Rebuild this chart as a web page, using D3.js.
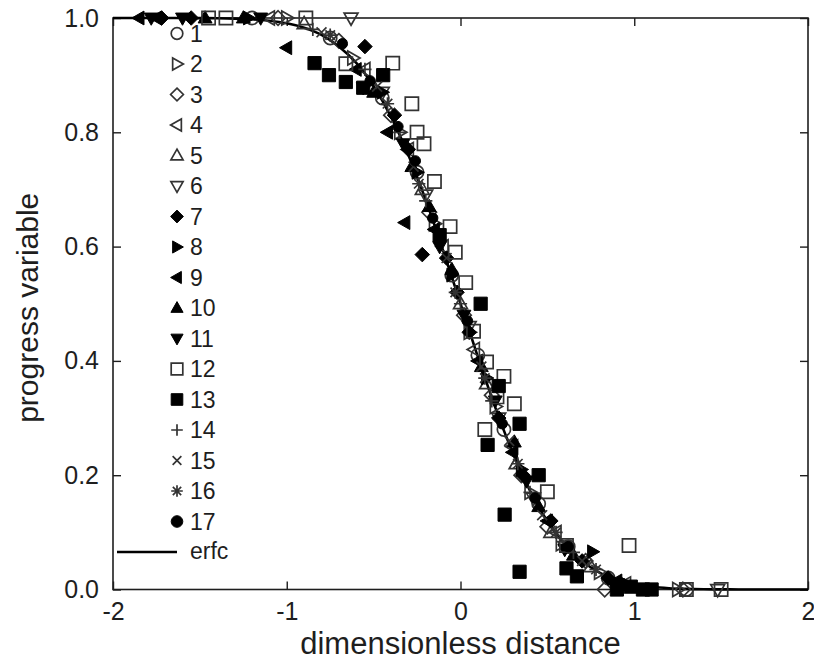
<!DOCTYPE html>
<html>
<head>
<meta charset="utf-8">
<script src="https://cdn.jsdelivr.net/npm/d3@7/dist/d3.min.js"></script>
<style>
  html, body { margin: 0; padding: 0; background: #fff; }
  svg { display: block; font-family: "Liberation Sans", Arial, Helvetica, sans-serif; }
</style>
</head>
<body>
<svg id="chart" width="814" height="667"></svg>
<script>
// ---------------- DATA ----------------
const xTicks = [-2, -1, 0, 1, 2];
const xTickLabels = ["-2", "-1", "0", "1", "2"];
const yTicks = [0, 0.2, 0.4, 0.6, 0.8, 1.0];
const yTickLabels = ["0.0", "0.2", "0.4", "0.6", "0.8", "1.0"];

const seriesNames = ["1","2","3","4","5","6","7","8","9","10","11","12","13","14","15","16","17"];
const seriesSymbols = ["circle","triRight","diamond","triLeft","triUp","triDown","diamond","triRight","triLeft","triUp","triDown","square","square","plus","cross","asterisk","circle"];
const seriesFilled = [false,false,false,false,false,false,true,true,true,true,true,false,true,false,false,false,true];

const series1 = [[-1.2,1.0],[-0.75,0.965],[-0.45,0.86],[-0.25,0.73],[-0.05,0.55],[0.1,0.41],[0.25,0.28],[0.45,0.15],[0.62,0.075],[0.85,0.02],[1.3,0.0]];
const series2 = [[-1.0,1.0],[-0.62,0.93],[-0.35,0.80],[-0.15,0.64],[0.05,0.45],[0.2,0.32],[0.4,0.17],[0.58,0.08],[0.8,0.03],[1.25,0.0]];
const series3 = [[-1.05,1.0],[-0.7,0.96],[-0.4,0.83],[-0.18,0.66],[0.02,0.48],[0.18,0.34],[0.35,0.2],[0.5,0.11],[0.72,0.05],[0.83,0.0],[1.28,0.0]];
const series4 = [[-1.1,1.0],[-0.55,0.91],[-0.3,0.77],[-0.1,0.6],[0.08,0.42],[0.3,0.25],[0.55,0.1],[0.95,0.01]];
const series5 = [[-0.9,0.99],[-0.5,0.88],[-0.22,0.7],[0.0,0.5],[0.15,0.36],[0.32,0.22],[0.52,0.1],[0.75,0.04]];
const series6 = [[-0.63,1.0],[-0.45,0.87],[-0.2,0.69],[0.05,0.46],[0.22,0.3],[0.42,0.16],[0.6,0.075],[0.9,0.01],[1.48,0.0]];
const series7 = [[-1.72,1.0],[-1.55,1.0],[-0.55,0.95],[-0.38,0.83],[-0.3,0.77],[-0.22,0.586],[-0.08,0.58],[-0.02,0.52],[0.05,0.45],[0.22,0.3],[0.36,0.2],[0.52,0.12],[0.7,0.05],[0.85,0.02]];
const series8 = [[-1.22,1.0],[-0.45,0.87],[-0.25,0.73],[-0.05,0.55],[0.15,0.37],[0.35,0.21],[0.76,0.066],[0.95,0.01]];
const series9 = [[-1.85,1.0],[-1.75,1.0],[-1.0,0.948],[-0.6,0.91],[-0.42,0.8],[-0.32,0.642],[-0.15,0.63],[0.1,0.4],[0.3,0.24],[0.5,0.12],[0.9,0.015]];
const series10 = [[-1.47,1.0],[-1.25,1.0],[-0.5,0.87],[-0.28,0.74],[-0.18,0.67],[-0.05,0.56],[0.12,0.39],[0.31,0.258],[0.45,0.145],[0.65,0.06],[0.92,0.01]];
const series11 = [[-1.78,1.0],[-1.6,1.0],[-1.15,1.0],[-0.56,0.878],[-0.33,0.78],[-0.12,0.6],[0.02,0.48],[0.2,0.33],[0.38,0.19],[0.6,0.07],[0.88,0.01]];
const series12 = [[-1.45,1.0],[-1.35,1.0],[-0.89,1.0],[-0.66,0.92],[-0.39,0.921],[-0.28,0.85],[-0.25,0.80],[-0.21,0.78],[-0.15,0.714],[-0.06,0.635],[-0.03,0.59],[0.03,0.537],[0.075,0.452],[0.15,0.398],[0.25,0.373],[0.21,0.337],[0.31,0.325],[0.14,0.28],[0.5,0.171],[0.61,0.077],[0.97,0.077],[1.3,0.0],[1.5,0.0]];
const series13 = [[-0.84,0.921],[-0.757,0.90],[-0.66,0.888],[-0.56,0.878],[-0.445,0.90],[-0.12,0.62],[0.116,0.50],[0.22,0.356],[0.34,0.29],[0.156,0.253],[0.45,0.2],[0.254,0.131],[0.34,0.031],[0.61,0.037],[0.67,0.023],[0.9,0.0],[0.98,0.005],[1.05,0.0],[1.1,0.0]];
const series14 = [[-0.85,0.98],[-0.55,0.91],[-0.35,0.8],[-0.2,0.68],[0.0,0.5],[0.18,0.33],[0.4,0.17],[0.65,0.065]];
const series15 = [[-0.8,0.975],[-0.48,0.88],[-0.27,0.74],[-0.08,0.58],[0.12,0.39],[0.28,0.26],[0.47,0.13],[0.7,0.05]];
const series16 = [[-0.75,0.97],[-0.42,0.85],[-0.24,0.71],[-0.03,0.52],[0.14,0.37],[0.33,0.22],[0.55,0.1],[0.78,0.035]];
const series17 = [[-0.68,0.955],[-0.52,0.89],[-0.36,0.81],[-0.26,0.75],[-0.16,0.65],[0.04,0.47],[0.24,0.29],[0.43,0.16],[0.62,0.075],[0.96,0.005]];
const allSeries = [series1,series2,series3,series4,series5,series6,series7,series8,series9,series10,series11,series12,series13,series14,series15,series16,series17];

const curveX = [-2.0,-1.9,-1.8,-1.7,-1.6,-1.5,-1.4,-1.3,-1.2,-1.1,-1.0,-0.9,-0.8,-0.7,-0.6,-0.5,-0.4,-0.3,-0.2,-0.1,0.0,0.1,0.2,0.3,0.4,0.5,0.6,0.7,0.8,0.9,1.0,1.1,1.2,1.3,1.4,1.5,1.6,1.7,1.8,1.9,2.0];
const curveY = [1.0,1.0,1.0,1.0,0.9999,0.9998,0.9995,0.9989,0.9977,0.9952,0.9907,0.9830,0.9705,0.9500,0.9213,0.8805,0.8271,0.7602,0.6813,0.5931,0.5,0.4069,0.3187,0.2398,0.1729,0.1195,0.0787,0.0500,0.0295,0.0170,0.0093,0.0048,0.0023,0.0011,0.0005,0.0002,0.0001,0.0,0.0,0.0,0.0];
const curveLabel = "erfc";

const xTitle = "dimensionless distance";
const yTitle = "progress variable";

// ---------------- DRAW ----------------
const svg = d3.select("#chart");
const L = 113, R = 808, T = 18, B = 589.5;
const x = d3.scaleLinear().domain([-2, 2]).range([L, R]);
const y = d3.scaleLinear().domain([0, 1]).range([B, T]);
const ink = "#1e1e1e";

function symPath(type, r) {
  const p = d3.path();
  switch (type) {
    case "circle": p.arc(0, 0, r, 0, 2 * Math.PI); break;
    case "square": p.rect(-r, -r, 2 * r, 2 * r); break;
    case "diamond": p.moveTo(0, -r * 1.1); p.lineTo(r * 1.1, 0); p.lineTo(0, r * 1.1); p.lineTo(-r * 1.1, 0); p.closePath(); break;
    case "triUp": p.moveTo(0, -r * 1.1); p.lineTo(r * 1.05, r * 0.75); p.lineTo(-r * 1.05, r * 0.75); p.closePath(); break;
    case "triDown": p.moveTo(0, r * 1.1); p.lineTo(r * 1.05, -r * 0.75); p.lineTo(-r * 1.05, -r * 0.75); p.closePath(); break;
    case "triRight": p.moveTo(r * 1.1, 0); p.lineTo(-r * 0.75, r * 1.05); p.lineTo(-r * 0.75, -r * 1.05); p.closePath(); break;
    case "triLeft": p.moveTo(-r * 1.1, 0); p.lineTo(r * 0.75, r * 1.05); p.lineTo(r * 0.75, -r * 1.05); p.closePath(); break;
    case "plus": p.moveTo(-r, 0); p.lineTo(r, 0); p.moveTo(0, -r); p.lineTo(0, r); break;
    case "cross": { const a = r * 0.75; p.moveTo(-a, -a); p.lineTo(a, a); p.moveTo(-a, a); p.lineTo(a, -a); break; }
    case "asterisk": { const a = r * 0.72; p.moveTo(-r, 0); p.lineTo(r, 0); p.moveTo(0, -r); p.lineTo(0, r); p.moveTo(-a, -a); p.lineTo(a, a); p.moveTo(-a, a); p.lineTo(a, -a); break; }
  }
  return p.toString();
}
function styleSym(sel, i) {
  const t = seriesSymbols[i];
  const lineOnly = (t === "plus" || t === "cross" || t === "asterisk");
  sel.attr("fill", seriesFilled[i] ? "#000" : (lineOnly ? "none" : "#fff"))
     .attr("fill-opacity", seriesFilled[i] ? 1 : 0)
     .attr("stroke", seriesFilled[i] ? "#000" : "#333")
     .attr("stroke-width", seriesFilled[i] ? 1 : 1.7);
}

// frame
svg.append("rect").attr("x", L).attr("y", T).attr("width", R - L).attr("height", B - T)
  .attr("fill", "none").attr("stroke", ink).attr("stroke-width", 1.6);

// axes with inward ticks
const gx = svg.append("g").attr("transform", `translate(0,${B})`)
  .call(d3.axisBottom(x).tickValues(xTicks).tickSizeInner(-8).tickSizeOuter(0).tickPadding(12)
    .tickFormat((d, i) => xTickLabels[i]));
const gxt = svg.append("g").attr("transform", `translate(0,${T})`)
  .call(d3.axisTop(x).tickValues(xTicks).tickSizeInner(-8).tickSizeOuter(0).tickFormat(""));
const gy = svg.append("g").attr("transform", `translate(${L},0)`)
  .call(d3.axisLeft(y).tickValues(yTicks).tickSizeInner(-8).tickSizeOuter(0).tickPadding(14)
    .tickFormat((d, i) => yTickLabels[i]));
const gyr = svg.append("g").attr("transform", `translate(${R},0)`)
  .call(d3.axisRight(y).tickValues(yTicks).tickSizeInner(-8).tickSizeOuter(0).tickFormat(""));
[gx, gxt, gy, gyr].forEach(g => {
  g.select(".domain").remove();
  g.selectAll(".tick line").attr("stroke", ink).attr("stroke-width", 1.4);
  g.selectAll("text").attr("fill", ink).attr("font-size", 25)
    .attr("font-family", '"Liberation Sans", Arial, Helvetica, sans-serif');
});
gx.selectAll("text").attr("dy", "0.75em");

// erfc curve
const line = d3.line().x(d => x(d[0])).y(d => y(d[1])).curve(d3.curveMonotoneX);
svg.append("path").datum(curveX.map((v, i) => [v, curveY[i]]))
  .attr("d", line).attr("fill", "none").attr("stroke", "#000").attr("stroke-width", 2.6);

// points
const plot = svg.append("g");
allSeries.forEach((s, i) => {
  const r = seriesSymbols[i] === "circle" && seriesFilled[i] ? 5.2 : 6.6;
  plot.selectAll(null).data(s).enter().append("path")
    .attr("transform", d => `translate(${x(d[0])},${y(d[1])})`)
    .attr("d", symPath(seriesSymbols[i], r))
    .call(styleSym, i);
});

// legend
const legY0 = 33.5, legDY = 30.5, legSymX = 177, legTextX = 190;
const leg = svg.append("g");
seriesNames.forEach((name, i) => {
  const yy = legY0 + i * legDY;
  leg.append("path").attr("transform", `translate(${legSymX},${yy})`)
    .attr("d", symPath(seriesSymbols[i], 5.8)).call(styleSym, i);
  leg.append("text").attr("x", legTextX).attr("y", yy).attr("dy", "0.36em")
    .attr("font-size", 23).attr("fill", ink).text(name);
});
{
  const yy = legY0 + seriesNames.length * legDY;
  leg.append("line").attr("x1", 117).attr("x2", 177).attr("y1", yy).attr("y2", yy)
    .attr("stroke", "#000").attr("stroke-width", 2.6);
  leg.append("text").attr("x", legTextX).attr("y", yy).attr("dy", "0.3em")
    .attr("font-size", 23).attr("fill", ink).text(curveLabel);
}

// titles
svg.append("text").attr("x", (L + R) / 2).attr("y", 654).attr("text-anchor", "middle")
  .attr("font-size", 31).attr("fill", ink).text(xTitle);
svg.append("text").attr("transform", `translate(38,${(T + B) / 2 + 4}) rotate(-90)`)
  .attr("text-anchor", "middle").attr("font-size", 30).attr("fill", ink).text(yTitle);
</script>
</body>
</html>
